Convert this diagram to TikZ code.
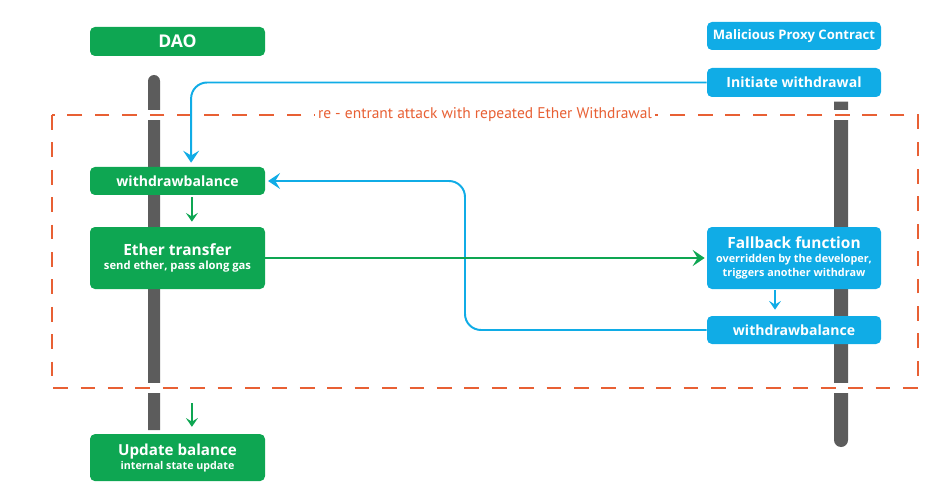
\documentclass[tikz,border=0pt]{standalone}
\usepackage{fontspec}
\setmainfont{Open Sans}
\newfontfamily\notefont{PT Sans}
\usepackage{tikz}
\usetikzlibrary{positioning,arrows.meta,backgrounds,calc}
\definecolor{daogreen}{RGB}{14,166,82}
\definecolor{proxyblue}{RGB}{16,172,230}
\definecolor{attackorange}{RGB}{232,96,52}
\definecolor{lifegray}{RGB}{92,92,92}
\tikzset{
  figbox/.style={rounded corners=3.5pt, align=center, text=white, inner sep=2pt,
    font=\bfseries\fontsize{10}{12}\selectfont, minimum height=7mm},
  daobox/.style={figbox, fill=daogreen, minimum width=43.75mm},
  proxybox/.style={figbox, fill=proxyblue, minimum width=43.5mm},
  figarrow/.style={-{Stealth[length=3mm, width=4mm, inset=1.2mm]}, line width=1.4pt},
  smallarrow/.style={-{Stealth[length=2.2mm, width=3mm, inset=0.9mm]}, line width=1.4pt},
}

\begin{document}
\begin{tikzpicture}[
    lifeline/.style={fill=lifegray},
    frame/.style={draw=attackorange, line width=1.8pt, dash pattern=on 10.5pt off 9pt,
      preaction={draw=white, solid, line width=6.5pt}}]
  \useasboundingbox (0,0) rectangle (23.7,-12.275);
  % DAO
  \node[daobox, minimum height=7.25mm, font=\bfseries\fontsize{12.5}{14}\selectfont] (dao) at (4.4375,-1.0375) {DAO};
  \node[daobox] (wbl) at (4.4375,-4.525) {withdrawbalance};
  \node[daobox, minimum height=15.5mm, font=\bfseries\fontsize{11}{11}\selectfont] (et) at (4.4375,-6.45)
    {Ether transfer\\[-1pt]{\bfseries\fontsize{8}{10}\selectfont send ether, pass along gas}};
  \node[daobox, minimum height=11.75mm, font=\bfseries\fontsize{10.8}{11}\selectfont] (ub) at (4.4375,-11.44)
    {Update balance\\[-1pt]{\bfseries\fontsize{7.6}{10}\selectfont internal state update}};
  % Malicious Proxy Contract
  \node[proxybox, font=\bfseries\fontsize{9.3}{11}\selectfont] (mal) at (19.85,-0.9) {Malicious Proxy Contract};
  \node[proxybox, minimum height=7.25mm] (iw) at (19.85,-2.0625) {Initiate withdrawal};
  \node[proxybox, minimum height=15.5mm, font=\bfseries\fontsize{11}{11}\selectfont] (fb) at (19.85,-6.45)
    {Fallback function\\[-1pt]{\bfseries\fontsize{7.7}{10}\selectfont overridden by the developer,}\\[-1pt]%
     {\bfseries\fontsize{7.7}{10}\selectfont triggers another withdraw}};
  \node[proxybox] (wbr) at (19.85,-8.25) {withdrawbalance};
  % lifelines and attack frame
  \begin{scope}[on background layer]
    \fill[lifeline] (3.7,-10.75) -- (3.7,-2.025) arc[start angle=180, end angle=0, radius=0.15] -- (4.0,-10.75) -- cycle;
    \fill[lifeline] (20.85,-2.54) -- (20.85,-11.0) arc[start angle=180, end angle=360, radius=0.175] -- (21.2,-2.54) -- cycle;
    \draw[frame] (1.3,-2.875) rectangle (22.95,-9.7);
  \end{scope}
  \node[fill=white, text=attackorange, font=\notefont\fontsize{11}{12}\selectfont, inner sep=2pt] (lbl) at (12.125,-2.875)
    {re - entrant attack with repeated Ether Withdrawal};
  % connectors
  \coordinate (back) at (11.625,-6.45);
  \draw[figarrow, proxyblue, rounded corners=4mm, shorten >=1mm] (iw.west) -| ([xshift=3.4mm]wbl.north);
  \draw[figarrow, proxyblue, rounded corners=4mm, shorten >=0.7mm] (wbr.west) -| (back) |- (wbl.east);
  \draw[smallarrow, daogreen, shorten <=0.5mm, shorten >=1.25mm] ([xshift=3.6mm]wbl.south) -- ([xshift=3.6mm]et.north);
  \draw[figarrow, daogreen, shorten >=0.5mm] (et.east) -- (fb.west);
  \draw[smallarrow, daogreen, shorten <=2.85cm, shorten >=1.75mm] ([xshift=3.6mm]et.south) -- ([xshift=3.6mm]ub.north);
  \draw[smallarrow, proxyblue, shorten <=0.3mm, shorten >=1.5mm] ([xshift=-4.75mm]fb.south) -- ([xshift=-4.75mm]wbr.north);
\end{tikzpicture}
\end{document}
